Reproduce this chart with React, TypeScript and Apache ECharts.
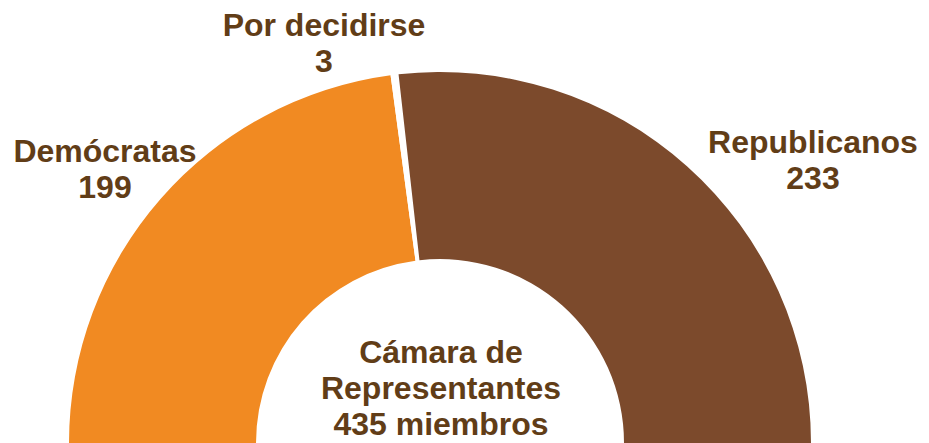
import React, { useEffect, useRef } from "react";
import * as echarts from "echarts";

const parties = ["Demócratas", "Por decidirse", "Republicanos"];
const seats = [199, 3, 233];
const partyColors = ["#F18A22", "#FFFFFF", "#7C4A2C"];
const centerLines = ["Cámara de", "Representantes", "435 miembros"];
const totalSeats = 435;

const labelPos = [
  { x: 105, y: 169 },
  { x: 324, y: 43 },
  { x: 813, y: 160 },
];

export default function App() {
  const ref = useRef<HTMLDivElement>(null);
  useEffect(() => {
    if (!ref.current) return;
    const chart = echarts.init(ref.current, null, { renderer: "svg" });
    const textColor = "#613D17";
    const data: any[] = parties.map((p, i) => ({
      name: p,
      value: seats[i],
      itemStyle: { color: partyColors[i] },
    }));
    data.push({
      name: "hidden",
      value: totalSeats,
      itemStyle: { color: "rgba(0,0,0,0)" },
      label: { show: false },
      emphasis: { disabled: true },
    });
    chart.setOption({
      animation: false,
      backgroundColor: "#ffffff",
      series: [
        {
          type: "pie",
          center: [440, 443],
          radius: [184, 371],
          startAngle: 180,
          clockwise: true,
          silent: true,
          data,
          label: {
            show: true,
            position: "inside",
            overflow: "none",
            formatter: "{b}\n{c}",
            color: textColor,
            fontFamily: "Arial, 'Liberation Sans', sans-serif",
            fontWeight: "bold",
            fontSize: 32,
            lineHeight: 36,
            align: "center",
            rotate: 0,
          },
          labelLine: { show: false },
          labelLayout: (params: any) => {
            const p = labelPos[params.dataIndex];
            if (!p) return {};
            return { x: p.x, y: p.y, align: "center", verticalAlign: "middle", rotate: 0 };
          },
        },
      ],
      graphic: [
        {
          type: "text",
          x: 441,
          y: 388,
          style: {
            text: centerLines.join("\n"),
            fill: textColor,
            font: "bold 32px Arial, 'Liberation Sans', sans-serif",
            lineHeight: 36,
            align: "center",
            verticalAlign: "middle",
          },
        },
      ],
    });
    return () => chart.dispose();
  }, []);
  return (
    <div
      ref={ref}
      style={{ position: "fixed", left: 0, top: 0, width: 929, height: 443 }}
    />
  );
}
